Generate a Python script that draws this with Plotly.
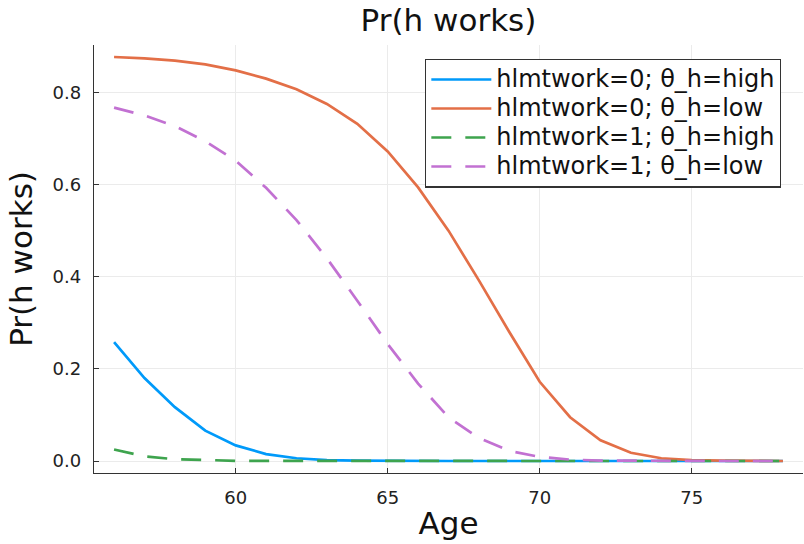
import plotly.graph_objects as go

ages = [56, 57, 58, 59, 60, 61, 62, 63, 64, 65, 66, 67, 68, 69, 70, 71, 72, 73, 74, 75, 76, 77, 78]

h0_high = [0.258, 0.180, 0.117, 0.066, 0.034, 0.015, 0.006, 0.002, 0.001, 0.0003, 0.0001, 0.0, 0.0,
           0.0, 0.0, 0.0, 0.0, 0.0, 0.0, 0.0, 0.0, 0.0, 0.0]
h0_low = [0.877, 0.874, 0.869, 0.861, 0.848, 0.830, 0.807, 0.775, 0.732, 0.672, 0.594, 0.500, 0.392,
          0.280, 0.172, 0.095, 0.045, 0.018, 0.006, 0.002, 0.0007, 0.0002, 0.0001]
h1_high = [0.025, 0.010, 0.004, 0.0015, 0.0005, 0.0002, 0.0001, 0.0, 0.0, 0.0, 0.0, 0.0, 0.0,
           0.0, 0.0, 0.0, 0.0, 0.0, 0.0, 0.0, 0.0, 0.0, 0.0]
h1_low = [0.767, 0.750, 0.727, 0.694, 0.652, 0.593, 0.523, 0.440, 0.348, 0.254, 0.168, 0.095, 0.050,
          0.022, 0.009, 0.003, 0.001, 0.0004, 0.0001, 0.0, 0.0, 0.0, 0.0]

names = ["hlmtwork=0; θ_h=high", "hlmtwork=0; θ_h=low", "hlmtwork=1; θ_h=high", "hlmtwork=1; θ_h=low"]
series = [h0_high, h0_low, h1_high, h1_low]
colors = ["#009AFA", "#E36F47", "#3EA44E", "#C271D2"]
dashes = ["solid", "solid", "20px,14px", "20px,14px"]

x_ticks = [60, 65, 70, 75]
y_ticks = [0.0, 0.2, 0.4, 0.6, 0.8]
y_ticklabels = ["0.0", "0.2", "0.4", "0.6", "0.8"]

FONT = "DejaVu Sans"

fig = go.Figure()
for nm, ys, c, d in zip(names, series, colors, dashes):
    fig.add_trace(go.Scatter(x=ages, y=ys, mode="lines",
                             name="<span style='font-size:24px'>" + nm + "</span>",
                             line=dict(color=c, width=2.7, dash=d)))

axis_common = dict(
    showline=True, linecolor="#333333", linewidth=1.3, mirror=False,
    showgrid=True, gridcolor="#EBEBEB", gridwidth=1,
    ticks="inside", ticklen=5, tickwidth=1.2, tickcolor="#333333",
    zeroline=False, tickfont=dict(family=FONT, size=18, color="#222222"),
    ticklabelstandoff=8,
)

fig.update_layout(
    width=804, height=544,
    margin=dict(l=94, r=1, t=45, b=71),
    paper_bgcolor="white", plot_bgcolor="white",
    font=dict(family=FONT, color="#111111"),
    title=dict(text="Pr(h works)", x=0.5, xref="paper", xanchor="center",
               y=1 - 20 / 544, yref="container", yanchor="middle",
               font=dict(family=FONT, size=31, color="#111111")),
    xaxis=dict(range=[55.34, 78.66], tickvals=x_ticks,
               title=dict(text="Age", font=dict(family=FONT, size=31), standoff=5),
               **axis_common),
    yaxis=dict(range=[-0.026, 0.903], tickvals=y_ticks, ticktext=y_ticklabels,
               title=dict(text="Pr(h works)", font=dict(family=FONT, size=31), standoff=10),
               **axis_common),
    legend=dict(x=0.969, y=0.968, xanchor="right", yanchor="top",
                bgcolor="white", bordercolor="#333333", borderwidth=1.3,
                font=dict(family=FONT, size=20, color="#111111"),
                tracegroupgap=0, itemwidth=60),
    showlegend=True,
)

fig.write_html("out.html")
